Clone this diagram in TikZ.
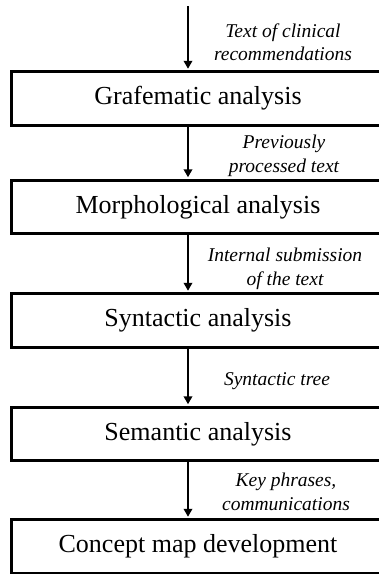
\documentclass[tikz,border=0pt]{standalone}
\usepackage{fontspec}
\setmainfont{Liberation Serif}
\usetikzlibrary{arrows.meta}
\begin{document}
\begin{tikzpicture}[x=1pt,y=1pt,
  stage/.style={draw=black, line width=3pt, minimum width=373pt, minimum height=53.5pt,
    inner sep=0pt, font=\fontsize{26}{30}\selectfont},
  flow/.style={line width=2.4pt, -{Triangle[length=8pt,width=8.5pt]}, shorten >=1.5pt},
  lbl/.style={align=center, font=\fontsize{19.5}{23.5}\selectfont\itshape, inner sep=0pt}]
\useasboundingbox (0,0) rectangle (379,-574);
\node[stage] (b1) at (198,-98.5) {Grafematic analysis};
\node[stage] (b2) at (198,-207) {Morphological analysis};
\node[stage] (b3) at (198,-320.5) {Syntactic analysis};
\node[stage] (b4) at (198,-434) {Semantic analysis};
\node[stage] (b5) at (198,-546.5) {Concept map development};
\coordinate (ax) at (188,0);
\coordinate (start) at (188,-6);
\draw[flow] (start) -- (b1.north -| ax);
\draw[flow] (b1.south -| ax) -- (b2.north -| ax);
\draw[flow] (b2.south -| ax) -- (b3.north -| ax);
\draw[flow] (b3.south -| ax) -- (b4.north -| ax);
\draw[flow] (b4.south -| ax) -- (b5.north -| ax);
\node[lbl] (l1) at (283,-42) {Text of clinical\\recommendations};
\node[lbl] (l2) at (284,-156) {Previously\\processed text};
\node[lbl] (l3) at (285,-269) {Internal submission\\of the text};
\node[lbl] (l4) at (277,-381) {Syntactic tree};
\node[lbl] (l5) at (286,-492) {Key phrases,\\communications};
\end{tikzpicture}
\end{document}
